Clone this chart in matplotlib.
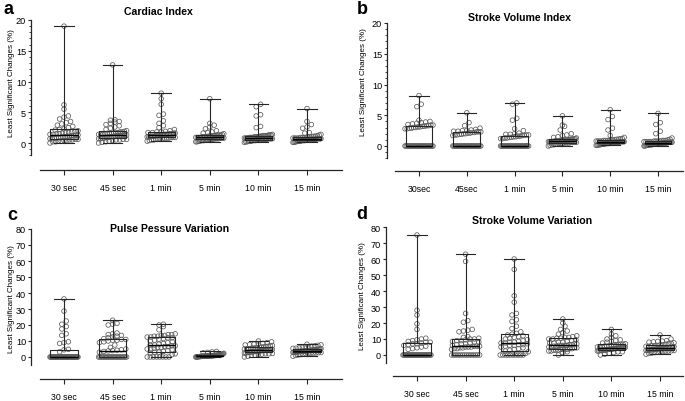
import matplotlib
matplotlib.use("Agg")
import matplotlib.pyplot as plt
import numpy as np

plt.rcParams['font.family'] = ['Liberation Sans', 'DejaVu Sans']

# ---- data (%) ----
labels_sec = ['30 sec', '45 sec', '1 min', '5 min', '10 min', '15 min']
labels_nospace = ['30sec', '45sec', '1 min', '5 min', '10 min', '15 min']

cardiac_index = [
    [19.0, 6.2, 5.5, 4.4, 4.2, 3.9, 3.5, 3.3, 3.1, 2.9, 2.7, 2.5, 2.3, 2.2, 2.1, 2.0, 1.9, 1.8, 1.7, 1.7,
     1.6, 1.5, 1.5, 1.4, 1.4, 1.3, 1.3, 1.2, 1.2, 1.1, 1.1, 1.0, 1.0, 0.9, 0.9, 0.8, 0.8, 0.7, 0.7, 0.6,
     0.6, 0.5, 0.5, 0.4, 0.4, 0.3, 0.3, 0.2, 0.2, 0.0],
    [12.7, 3.8, 3.7, 3.5, 3.4, 3.2, 3.0, 2.8, 2.6, 2.4, 2.2, 2.0, 1.9, 1.8, 1.8, 1.7, 1.7, 1.6, 1.6, 1.5,
     1.5, 1.5, 1.4, 1.4, 1.4, 1.3, 1.3, 1.3, 1.2, 1.2, 1.2, 1.1, 1.1, 1.0, 1.0, 0.9, 0.9, 0.8, 0.8, 0.7,
     0.7, 0.6, 0.6, 0.5, 0.5, 0.4, 0.3, 0.2, 0.1, 0.0],
    [8.1, 7.2, 6.3, 4.7, 4.5, 3.6, 3.2, 2.8, 2.5, 2.2, 2.0, 1.9, 1.8, 1.8, 1.7, 1.7, 1.6, 1.6, 1.5, 1.5,
     1.5, 1.4, 1.4, 1.4, 1.3, 1.3, 1.3, 1.2, 1.2, 1.2, 1.1, 1.1, 1.1, 1.0, 1.0, 1.0, 0.9, 0.9, 0.9, 0.8,
     0.8, 0.8, 0.7, 0.7, 0.6, 0.6, 0.5, 0.5, 0.4, 0.3],
    [7.2, 3.2, 2.9, 2.6, 2.3, 2.0, 1.8, 1.7, 1.6, 1.5, 1.4, 1.3, 1.3, 1.3, 1.2, 1.2, 1.2, 1.1, 1.1, 1.1,
     1.0, 1.0, 1.0, 1.0, 0.9, 0.9, 0.9, 0.9, 0.8, 0.8, 0.8, 0.8, 0.7, 0.7, 0.7, 0.7, 0.6, 0.6, 0.6, 0.6,
     0.5, 0.5, 0.5, 0.4, 0.4, 0.4, 0.3, 0.3, 0.2, 0.2],
    [6.3, 5.9, 4.6, 4.4, 2.7, 2.5, 1.4, 1.3, 1.3, 1.3, 1.2, 1.2, 1.2, 1.2, 1.1, 1.1, 1.1, 1.0, 1.0, 1.0,
     1.0, 0.9, 0.9, 0.9, 0.9, 0.8, 0.8, 0.8, 0.8, 0.7, 0.7, 0.7, 0.7, 0.6, 0.6, 0.6, 0.6, 0.5, 0.5, 0.5,
     0.5, 0.4, 0.4, 0.4, 0.3, 0.3, 0.3, 0.2, 0.2, 0.1],
    [5.6, 3.5, 3.0, 2.6, 2.4, 1.7, 1.6, 1.4, 1.3, 1.2, 1.1, 1.1, 1.0, 1.0, 1.0, 0.9, 0.9, 0.9, 0.9, 0.8,
     0.8, 0.8, 0.8, 0.7, 0.7, 0.7, 0.7, 0.7, 0.6, 0.6, 0.6, 0.6, 0.6, 0.5, 0.5, 0.5, 0.5, 0.5, 0.4, 0.4,
     0.4, 0.4, 0.3, 0.3, 0.3, 0.3, 0.2, 0.2, 0.1, 0.1],
]

stroke_volume_index = [
    [8.2, 6.8, 6.4, 4.2, 4.0, 3.9, 3.8, 3.7, 3.6, 3.5, 3.4, 3.4, 3.3, 3.3, 3.2, 3.2, 3.1, 3.1, 3.0, 3.0,
     2.9, 2.9, 2.8, 2.8] + [0.0] * 26,
    [5.4, 3.8, 3.3, 2.9, 2.7, 2.6, 2.5, 2.5, 2.4, 2.4, 2.3, 2.3, 2.3, 2.2, 2.2, 2.1, 2.1, 2.0, 2.0, 1.9,
     1.9, 1.8, 1.8, 1.7] + [0.0] * 26,
    [7.0, 6.8, 4.5, 4.2, 2.8, 2.5, 2.1, 2.0, 1.9, 1.9, 1.8, 1.8, 1.7, 1.7, 1.6, 1.6, 1.5, 1.5, 1.4, 1.4,
     1.3, 1.3, 1.2, 1.2] + [0.0] * 26,
    [4.9, 3.4, 3.2, 2.6, 2.0, 1.8, 1.7, 1.5, 1.4, 1.3, 1.2, 1.2, 1.1, 1.1, 1.1, 1.0, 1.0, 1.0, 1.0, 0.9,
     0.9, 0.9, 0.9, 0.8, 0.8, 0.8, 0.8, 0.8, 0.7, 0.7, 0.7, 0.7, 0.7, 0.6, 0.6, 0.6, 0.6, 0.5, 0.5, 0.5,
     0.5, 0.4, 0.4, 0.4, 0.3, 0.3, 0.2, 0.2, 0.1, 0.0],
    [5.9, 4.8, 4.3, 2.9, 2.6, 1.7, 1.4, 1.2, 1.2, 1.1, 1.1, 1.0, 1.0, 1.0, 0.9, 0.9, 0.9, 0.9, 0.8, 0.8,
     0.8, 0.8, 0.7, 0.7, 0.7, 0.7, 0.7, 0.6, 0.6, 0.6, 0.6, 0.6, 0.5, 0.5, 0.5, 0.5, 0.5, 0.4, 0.4, 0.4,
     0.4, 0.3, 0.3, 0.3, 0.3, 0.2, 0.2, 0.2, 0.1, 0.1],
    [5.3, 3.8, 3.5, 2.4, 2.0, 1.3, 1.1, 1.0, 0.9, 0.9, 0.9, 0.8, 0.8, 0.8, 0.8, 0.7, 0.7, 0.7, 0.7, 0.7,
     0.6, 0.6, 0.6, 0.6, 0.6, 0.5, 0.5, 0.5, 0.5, 0.5, 0.5, 0.4, 0.4, 0.4, 0.4, 0.4, 0.3, 0.3, 0.3, 0.3,
     0.3, 0.2, 0.2, 0.2, 0.2, 0.1, 0.1, 0.1, 0.0, 0.0],
]

pulse_pressure_variation = [
    [36.3, 28.7, 22.5, 20.5, 19.0, 17.5, 14.5, 13.5, 9.5, 9.0, 8.5, 4.8, 4.5, 3.2] + [0.0] * 36,
    [23.0, 21.0, 20.5, 20.0, 15.0, 14.5, 14.0, 13.5, 13.0, 12.5, 12.0, 11.5, 11.0, 11.0, 10.5, 10.5, 10.0,
     9.5, 9.0, 7.5, 6.0, 5.0, 4.5, 4.2, 4.0, 3.8, 3.5, 3.0] + [0.0] * 22,
    [0.0] * 8 + [1.5, 2.0, 2.5, 3.0, 3.0, 3.5, 4.0, 4.5, 5.0, 5.0, 5.5, 6.0, 6.0, 6.5, 6.5, 7.0, 7.0, 7.5,
                 7.5, 8.0, 8.5, 9.0, 9.5, 10.0, 10.5, 11.0, 11.5, 12.0, 12.0, 12.5, 12.5, 13.0, 13.0, 13.5,
                 13.5, 14.0, 14.0, 14.5, 17.0, 19.0, 20.0, 20.5],
    [3.5, 3.2, 2.9, 2.6, 2.3, 2.0, 1.8, 1.6, 1.5, 1.4, 1.3, 1.3, 1.2, 1.2, 1.1, 1.1, 1.0, 1.0, 1.0, 0.9,
     0.9, 0.9, 0.8, 0.8, 0.8, 0.8, 0.7, 0.7, 0.7, 0.7, 0.6, 0.6, 0.6, 0.6, 0.5, 0.5, 0.5, 0.5, 0.4, 0.4,
     0.4, 0.3, 0.3, 0.3, 0.2, 0.2, 0.1, 0.1, 0.0, 0.0],
    [0.0, 0.5, 1.0, 1.2, 1.5, 1.8, 2.0, 2.0, 2.2, 2.5, 2.5, 2.8, 3.0, 3.0, 3.2, 3.3, 3.5, 3.5, 3.7, 3.8,
     4.0, 4.0, 4.2, 4.3, 4.5, 4.5, 4.7, 4.8, 5.0, 5.0, 5.2, 5.4, 5.5, 5.7, 5.8, 6.0, 6.2, 6.3, 6.5, 6.7,
     7.0, 7.2, 7.5, 7.8, 8.0, 8.3, 8.5, 9.0, 9.5, 10.0],
    [0.5, 1.0, 1.3, 1.5, 1.8, 2.0, 2.2, 2.3, 2.5, 2.5, 2.7, 2.8, 2.9, 3.0, 3.0, 3.1, 3.2, 3.3, 3.4, 3.5,
     3.5, 3.6, 3.7, 3.8, 3.8, 3.9, 4.0, 4.0, 4.1, 4.2, 4.3, 4.4, 4.5, 4.5, 4.6, 4.8, 4.9, 5.0, 5.2, 5.4,
     5.5, 5.7, 6.0, 6.2, 6.5, 6.8, 7.0, 7.3, 7.6, 8.0],
]

stroke_volume_variation = [
    [75.0, 28.0, 25.0, 19.5, 16.0, 10.5, 10.0, 9.5, 9.0, 8.5, 8.0, 8.0, 7.5, 7.0, 7.0, 6.5, 6.0, 5.5,
     5.0, 4.5, 4.0, 3.5] + [0.0] * 28,
    [0.0] * 14 + [3.5, 4.0, 4.0, 4.5, 4.5, 5.0, 5.0, 5.0, 5.5, 5.5, 5.5, 6.0, 6.5, 7.0, 7.0, 7.5, 8.0, 8.0,
                  8.5, 9.0, 9.0, 9.5, 10.0, 10.0, 10.5, 11.0, 11.5, 14.5, 15.0, 15.5, 16.0, 20.5, 21.5,
                  26.0, 58.5, 63.0],
    [0.0] * 10 + [1.0, 2.0, 2.5, 3.0, 3.5, 4.0, 4.5, 5.0, 5.5, 6.0, 6.0, 6.5, 6.5, 7.0, 7.5, 7.5, 8.0, 8.0,
                  8.5, 9.0, 9.5, 10.0, 10.5, 11.0, 11.5, 12.0, 12.5, 13.0, 13.5, 14.5, 16.5, 18.0, 21.0,
                  22.0, 25.0, 26.0, 33.0, 37.0, 53.5, 60.0],
    [0.0, 1.5, 2.0, 2.5, 2.5, 3.0, 3.0, 3.0, 3.5, 3.5, 3.5, 3.5, 4.0, 4.0, 4.5, 4.5, 5.0, 5.0, 5.5, 5.5,
     6.0, 6.0, 6.0, 6.0, 6.5, 6.5, 7.0, 7.0, 7.5, 7.5, 8.0, 8.0, 8.5, 9.0, 9.5, 10.0, 10.0, 10.5, 10.5,
     11.0, 11.0, 11.5, 12.0, 13.0, 14.0, 15.0, 16.0, 18.0, 20.0, 22.5],
    [0.0, 0.5, 1.0, 1.5, 2.0, 2.0, 2.5, 2.5, 2.8, 3.0, 3.0, 3.0, 3.2, 3.3, 3.5, 3.5, 3.7, 3.8, 4.0, 4.0,
     4.2, 4.3, 4.4, 4.5, 4.5, 4.6, 4.8, 5.0, 5.0, 5.2, 5.4, 5.5, 5.7, 6.0, 6.2, 6.4, 6.5, 6.6, 6.8, 7.0,
     7.5, 8.0, 8.5, 9.0, 9.5, 10.0, 11.0, 12.0, 13.0, 16.0],
    [0.5, 1.0, 1.2, 1.5, 1.8, 2.0, 2.2, 2.4, 2.5, 2.6, 2.8, 2.9, 3.0, 3.0, 3.2, 3.3, 3.4, 3.5, 3.6, 3.7,
     3.8, 3.9, 4.0, 4.0, 4.1, 4.2, 4.3, 4.5, 4.6, 4.8, 5.0, 5.2, 5.4, 5.5, 5.7, 5.8, 6.0, 6.2, 6.5, 6.8,
     7.0, 7.3, 7.6, 8.0, 8.2, 8.5, 8.7, 9.0, 10.0, 12.5],
]

W, H = 685, 402
fig = plt.figure(figsize=(W / 100, H / 100), dpi=100)

ink = '#262626'
dot_edge = '#5c5c5c'


def swarm_x(values, pos, ppu, step, d_px=4.4, max_half_px=14):
    # prism-like scatter: bin close values into rows, spread each row sideways
    v = np.asarray(values, float)
    order = np.argsort(v, kind='stable')
    xs = np.zeros(len(v))
    rows, cur = [], [order[0]]
    for idx in order[1:]:
        if (v[idx] - v[cur[0]]) * ppu < d_px * 0.85:
            cur.append(idx)
        else:
            rows.append(cur)
            cur = [idx]
    rows.append(cur)
    for row in rows:
        n = len(row)
        sp = d_px if n < 2 else min(d_px, 2 * max_half_px / (n - 1))
        for k, idx in enumerate(row):
            xs[idx] = pos + (k - (n - 1) / 2) * sp / step
    return xs


def draw_panel(left, right, top, bottom, zero_px, ymax, spine_low, cat0, step, xline_start,
               data, labels, major, minor):
    ax = fig.add_axes([left / W, 1 - bottom / H, (right - left) / W, (bottom - top) / H])
    ppu = (zero_px - top) / ymax
    ax.set_ylim(ymax - (bottom - top) / ppu, ymax)
    ax.set_xlim((left - cat0) / step, (right - cat0) / step)

    for i, vals in enumerate(data):
        xs = swarm_x(vals, i, ppu, step)
        ax.scatter(xs, vals, s=3.3 ** 2, facecolors='none', edgecolors=dot_edge,
                   linewidths=0.55, zorder=2, clip_on=False)

    ax.boxplot(data, positions=range(len(data)), widths=0.56, whis=(0, 100), showfliers=False,
               capwidths=0.4, manage_ticks=False,
               boxprops=dict(color=ink, linewidth=0.8),
               whiskerprops=dict(color=ink, linewidth=0.8),
               capprops=dict(color=ink, linewidth=0.8),
               medianprops=dict(color='black', linewidth=1.0),
               zorder=3)

    for s in ['top', 'right']:
        ax.spines[s].set_visible(False)
    ax.spines['left'].set_bounds(spine_low, ymax)
    ax.spines['bottom'].set_bounds((xline_start - cat0) / step, (right - cat0) / step)
    for s in ['left', 'bottom']:
        ax.spines[s].set_color(ink)
        ax.spines[s].set_linewidth(0.9)

    ax.set_xticks(range(len(labels)), labels)
    ax.set_yticks(major, [str(m) for m in major])
    ax.set_yticks(minor, minor=True)
    ax.tick_params(axis='x', length=3.5, width=0.8, color=ink, pad=6, labelsize=6.3)
    ax.tick_params(axis='y', which='major', length=2.5, width=0.8, color=ink, pad=1, labelsize=6.6)
    ax.tick_params(axis='y', which='minor', length=1.5, width=0.6, color=ink)
    ax.patch.set_alpha(0)
    return ax


minor_20 = [t for t in range(-2, 21) if t % 5 != 0]

draw_panel(31, 342, 21, 171, 144, 20, -2, 64, 48.6, 40,
           cardiac_index, labels_sec, [0, 5, 10, 15, 20], minor_20)
draw_panel(387, 683, 24, 172, 147, 20, -2, 419, 47.8, 395,
           stroke_volume_index, labels_nospace, [0, 5, 10, 15, 20], minor_20)
draw_panel(31, 342, 230, 380, 358, 80, -5, 64, 48.6, 40,
           pulse_pressure_variation, labels_sec, list(range(0, 81, 10)), [])
draw_panel(386, 683, 228, 377, 356, 80, -5, 417, 48.6, 393,
           stroke_volume_variation, labels_sec, list(range(0, 81, 10)), [])

titles = [('Cardiac Index', 158, 12), ('Stroke Volume Index', 520, 18),
          ('Pulse Pessure Variation', 170, 229), ('Stroke Volume Variation', 532, 221)]
for txt, x, y in titles:
    fig.text(x / W, 1 - y / H, txt, ha='center', va='center', fontsize=7.6, fontweight='bold')

letters = [('a', 4, 10), ('b', 357, 9), ('c', 7, 216), ('d', 356, 215)]
for txt, x, y in letters:
    fig.text(x / W, 1 - y / H, txt, ha='left', va='center', fontsize=13, fontweight='bold')

ylabels = [(11.5, 83), (363.5, 82), (11.5, 299), (362, 296)]
for x, y in ylabels:
    fig.text(x / W, 1 - y / H, 'Least Significant Changes (%)', rotation=90,
             ha='center', va='center', fontsize=5.8)

fig.savefig('out.png', dpi=100)
